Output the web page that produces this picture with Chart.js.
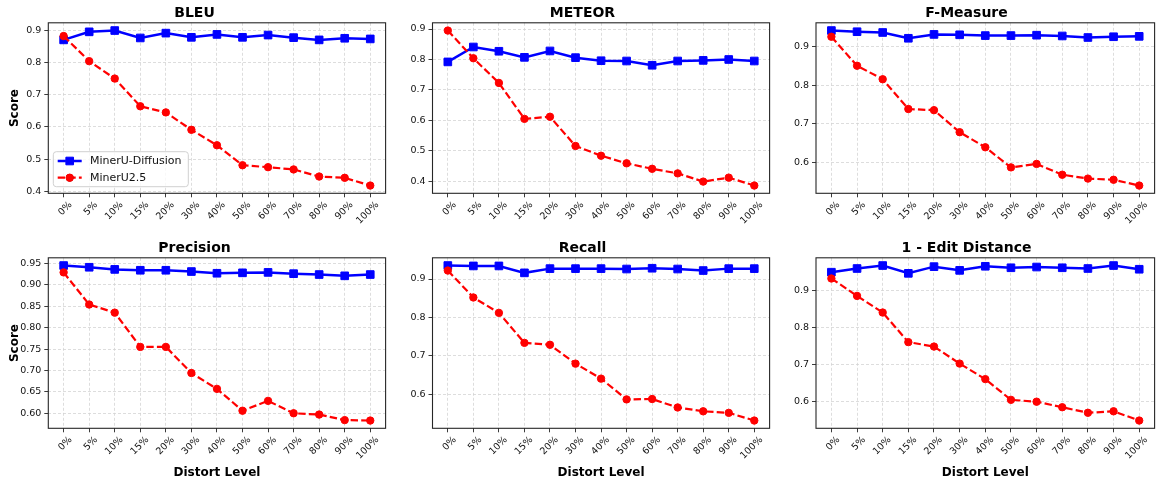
<!DOCTYPE html>
<html>
<head>
<meta charset="utf-8">
<script src="https://cdn.jsdelivr.net/npm/chart.js@4"></script>
<style>
  html, body { margin: 0; padding: 0; background: #fff; }
  body { position: relative; width: 1156px; height: 480px; overflow: hidden; }
  canvas { position: absolute; }
</style>
</head>
<body>
<canvas id="c0"></canvas>
<canvas id="c1"></canvas>
<canvas id="c2"></canvas>
<canvas id="c3"></canvas>
<canvas id="c4"></canvas>
<canvas id="c5"></canvas>
<script>
// distort levels (x axis) and the two models
const levels = ['0%', '5%', '10%', '15%', '20%', '30%', '40%', '50%', '60%', '70%', '80%', '90%', '100%'];
const seriesNames = ['MinerU-Diffusion', 'MinerU2.5'];
const metricNames = ['BLEU', 'METEOR', 'F-Measure', 'Precision', 'Recall', '1 - Edit Distance'];

// scores
const bleuDiffusion   = [0.870, 0.895, 0.899, 0.876, 0.891, 0.878, 0.887, 0.878, 0.885, 0.877, 0.870, 0.875, 0.873];
const bleuMineru      = [0.882, 0.804, 0.750, 0.664, 0.645, 0.591, 0.543, 0.481, 0.475, 0.468, 0.446, 0.442, 0.418];
const meteorDiffusion = [0.792, 0.841, 0.827, 0.807, 0.828, 0.806, 0.796, 0.795, 0.781, 0.795, 0.797, 0.800, 0.795];
const meteorMineru    = [0.895, 0.804, 0.723, 0.605, 0.612, 0.516, 0.484, 0.459, 0.441, 0.426, 0.399, 0.412, 0.386];
const fDiffusion      = [0.941, 0.938, 0.936, 0.921, 0.931, 0.930, 0.928, 0.928, 0.929, 0.927, 0.923, 0.925, 0.926];
const fMineru         = [0.925, 0.850, 0.815, 0.738, 0.735, 0.678, 0.639, 0.587, 0.596, 0.568, 0.558, 0.555, 0.540];
const precDiffusion   = [0.945, 0.941, 0.936, 0.934, 0.934, 0.931, 0.927, 0.928, 0.929, 0.926, 0.924, 0.921, 0.924];
const precMineru      = [0.929, 0.854, 0.835, 0.755, 0.755, 0.694, 0.657, 0.606, 0.629, 0.600, 0.597, 0.584, 0.583];
const recallDiffusion = [0.935, 0.934, 0.934, 0.916, 0.927, 0.927, 0.927, 0.926, 0.928, 0.926, 0.922, 0.927, 0.927];
const recallMineru    = [0.922, 0.852, 0.812, 0.734, 0.729, 0.680, 0.641, 0.587, 0.588, 0.566, 0.556, 0.552, 0.532];
const editDiffusion   = [0.950, 0.960, 0.968, 0.947, 0.965, 0.955, 0.966, 0.962, 0.964, 0.962, 0.960, 0.968, 0.958];
const editMineru      = [0.933, 0.886, 0.841, 0.761, 0.749, 0.703, 0.661, 0.605, 0.600, 0.585, 0.570, 0.574, 0.549];

// y tick labels per panel
const ticksTenths  = ['0.4', '0.5', '0.6', '0.7', '0.8', '0.9'];
const ticksHigh    = ['0.6', '0.7', '0.8', '0.9'];
const ticksPrec    = ['0.60', '0.65', '0.70', '0.75', '0.80', '0.85', '0.90', '0.95'];

const FONT = '"DejaVu Sans", sans-serif';

// where each panel's canvas sits on the page
const cols = [
  { x: 0,   w: 392, yAxisW: 48.3, padRight: 3 },
  { x: 392, w: 384, yAxisW: 40.5, padRight: 3 },
  { x: 776, w: 385, yAxisW: 40,   padRight: 4 }
];
const rows = [
  { y: 0,   h: 240, xAxisH: 46.7 },
  { y: 235, h: 245, xAxisH: 51.7 }
];

const panels = [
  { diff: bleuDiffusion,   base: bleuMineru,   ticks: ticksTenths },
  { diff: meteorDiffusion, base: meteorMineru, ticks: ticksTenths },
  { diff: fDiffusion,      base: fMineru,      ticks: ticksHigh },
  { diff: precDiffusion,   base: precMineru,   ticks: ticksPrec },
  { diff: recallDiffusion, base: recallMineru, ticks: ticksHigh },
  { diff: editDiffusion,   base: editMineru,   ticks: ticksHigh }
];

// full box round the plot area
const framePlugin = {
  id: 'frame',
  afterDraw(chart) {
    const { ctx, chartArea: a } = chart;
    ctx.save();
    ctx.strokeStyle = '#262626';
    ctx.lineWidth = 1.1;
    ctx.strokeRect(a.left, a.top, a.right - a.left, a.bottom - a.top);
    ctx.restore();
  }
};

// legend in the lower left corner, like matplotlib's
const innerLegend = {
  id: 'innerLegend',
  afterDraw(chart, args, opts) {
    if (!opts.show) return;
    const { ctx, chartArea: a } = chart;
    const w = 135, h = 35;
    const x = a.left + 5, y = a.bottom - 6.6 - h;
    ctx.save();
    ctx.beginPath();
    ctx.roundRect(x, y, w, h, 3);
    ctx.fillStyle = 'rgba(255,255,255,0.8)';
    ctx.fill();
    ctx.strokeStyle = '#d0d0d0';
    ctx.lineWidth = 1;
    ctx.stroke();
    chart.data.datasets.forEach((ds, i) => {
      const cy = y + 9.3 + i * 16.7;
      ctx.strokeStyle = ds.borderColor;
      ctx.lineWidth = ds.borderWidth;
      ctx.setLineDash(ds.borderDash || []);
      ctx.beginPath();
      ctx.moveTo(x + 4.4, cy);
      ctx.lineTo(x + 28.4, cy);
      ctx.stroke();
      ctx.setLineDash([]);
      ctx.lineWidth = 1;
      Chart.helpers.drawPoint(ctx, {
        pointStyle: ds.pointStyle, radius: ds.pointRadius, borderWidth: 1, rotation: 0
      }, x + 16.4, cy);
      ctx.fillStyle = ds.backgroundColor;
      ctx.fill();
      ctx.fillStyle = '#111';
      ctx.font = '11px ' + FONT;
      ctx.textBaseline = 'middle';
      ctx.fillText(seriesNames[i], x + 36.7, cy + 0.5);
    });
    ctx.restore();
  }
};

function makeChart(i) {
  const p = panels[i];
  const col = cols[i % 3], row = rows[Math.floor(i / 3)];
  const canvas = document.getElementById('c' + i);
  canvas.width = col.w;
  canvas.height = row.h;
  canvas.style.left = col.x + 'px';
  canvas.style.top = row.y + 'px';

  const all = p.diff.concat(p.base);
  const lo = Math.min(...all), hi = Math.max(...all);
  const yPad = (hi - lo) * 0.05;
  const xPad = (levels.length - 1) * 0.05;

  const gridOpts = {
    color: '#d4d4d4', lineWidth: 0.8,
    tickLength: 4, tickColor: '#262626', tickWidth: 0.9, tickBorderDash: []
  };

  new Chart(canvas, {
    type: 'line',
    data: {
      datasets: [
        {
          label: seriesNames[0],
          data: p.diff.map((v, k) => ({ x: k, y: v })),
          borderColor: '#0000ff', backgroundColor: '#0000ff',
          borderWidth: 2.5, pointStyle: 'rect', pointRadius: 5.4, pointBorderWidth: 1,
          order: 1
        },
        {
          label: seriesNames[1],
          data: p.base.map((v, k) => ({ x: k, y: v })),
          borderColor: '#ff0000', backgroundColor: '#ff0000',
          borderWidth: 2.2, borderDash: [7.4, 3.2],
          pointStyle: 'circle', pointRadius: 3.7, pointBorderWidth: 1,
          order: 0
        }
      ]
    },
    options: {
      responsive: false,
      animation: false,
      devicePixelRatio: 1,
      layout: { padding: { left: 0, right: col.padRight, top: 0, bottom: 0 } },
      plugins: {
        legend: { display: false },
        tooltip: { enabled: false },
        title: {
          display: true, text: metricNames[i], color: '#000',
          font: { family: FONT, size: 14, weight: 'bold' },
          padding: { top: 5, bottom: 1 }
        },
        innerLegend: { show: i === 0 }
      },
      scales: {
        x: {
          type: 'linear', bounds: 'data',
          min: -xPad, max: levels.length - 1 + xPad,
          afterBuildTicks: s => { s.ticks = levels.map((_, k) => ({ value: k })); },
          afterFit: s => { s.height = row.xAxisH; },
          ticks: {
            autoSkip: false, minRotation: 45, maxRotation: 45, labelOffset: 7, padding: 2,
            color: '#111', font: { family: FONT, size: 9.5 },
            callback: v => levels[v]
          },
          grid: gridOpts,
          border: { display: false, dash: [3, 2] },
          title: {
            display: i >= 3, text: 'Distort Level', color: '#000',
            font: { family: FONT, size: 12, weight: 'bold' },
            padding: { top: 0, bottom: 0 }
          }
        },
        y: {
          type: 'linear', bounds: 'data',
          min: lo - yPad, max: hi + yPad,
          afterBuildTicks: s => { s.ticks = p.ticks.map(t => ({ value: Number(t) })); },
          afterFit: s => { s.width = col.yAxisW; },
          ticks: {
            padding: 3, color: '#111', font: { family: FONT, size: 9.5 },
            callback: (v, k) => p.ticks[k]
          },
          grid: gridOpts,
          border: { display: false, dash: [3, 2] },
          title: {
            display: i % 3 === 0, text: 'Score', color: '#000',
            font: { family: FONT, size: 12, weight: 'bold' },
            padding: { top: 7.8, bottom: 0 }
          }
        }
      }
    },
    plugins: [framePlugin, innerLegend]
  });
}

for (let i = 0; i < panels.length; i++) makeChart(i);
</script>
</body>
</html>
